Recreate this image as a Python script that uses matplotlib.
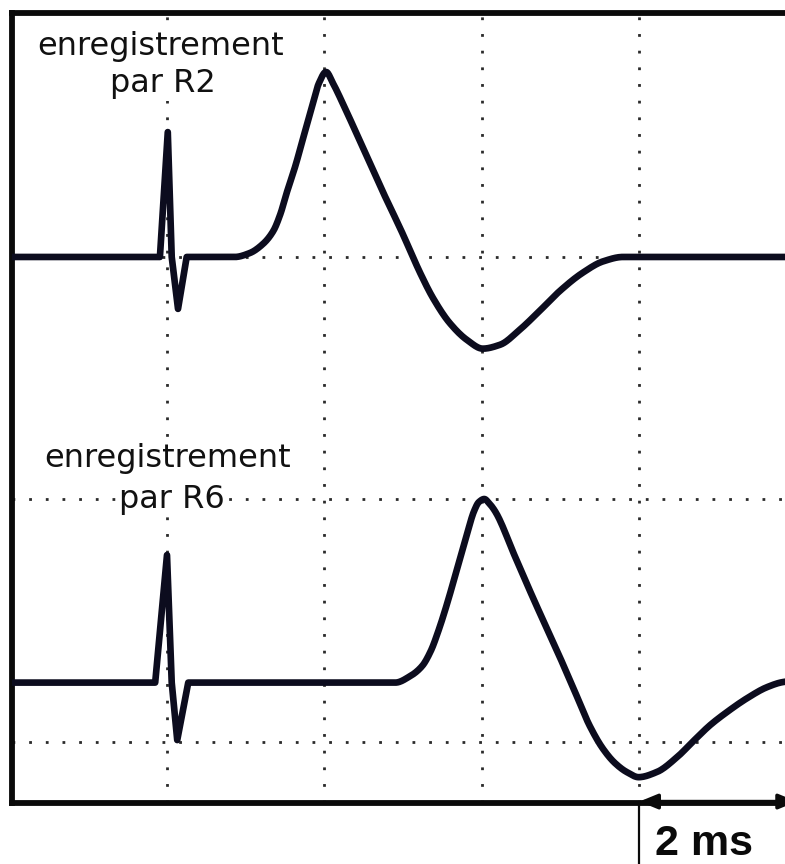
import matplotlib
matplotlib.use("Agg")
import matplotlib.pyplot as plt
import numpy as np

# ---------------- data (time in ms, amplitude in screen divisions, relative to each trace's baseline)
r2_t = [0.0, 1.91, 2.01, 2.06, 2.14, 2.25, 2.86, 3.05, 3.22, 3.35, 3.44, 3.52, 3.63, 3.73, 3.84,
        3.93, 4.02, 4.11, 4.24, 4.49, 4.74, 5.00, 5.11, 5.21, 5.38, 5.59, 5.81, 6.01, 6.23, 6.48,
        6.74, 6.99, 7.28, 7.54, 7.79, 8.01, 10.1]
r2_v = [0.0, 0.0, 0.515, 0.0, -0.214, 0.0, 0.0, 0.016, 0.054, 0.107, 0.177, 0.264, 0.375, 0.491, 0.618,
        0.717, 0.763, 0.715, 0.628, 0.449, 0.270, 0.091, 0.010, -0.062, -0.170, -0.272, -0.342, -0.378,
        -0.362, -0.300, -0.220, -0.140, -0.065, -0.018, 0.0, 0.0, 0.0]

r6_t = [0.0, 1.85, 2.00, 2.06, 2.13, 2.27, 4.90, 5.09, 5.24, 5.35, 5.45, 5.56, 5.68, 5.80, 5.90,
        5.96, 6.03, 6.09, 6.17, 6.42, 6.67, 6.93, 7.18, 7.37, 7.54, 7.69, 7.84, 7.99, 8.22, 8.48,
        8.68, 8.90, 9.11, 9.37, 9.62, 9.82, 10.1]
r6_v = [0.0, 0.0, 0.526, 0.0, -0.237, 0.0, 0.0, 0.027, 0.068, 0.130, 0.216, 0.328, 0.464, 0.600, 0.707,
        0.744, 0.757, 0.740, 0.705, 0.520, 0.334, 0.149, -0.037, -0.179, -0.274, -0.332, -0.369, -0.390,
        -0.369, -0.307, -0.243, -0.175, -0.122, -0.064, -0.019, 0.002, 0.012]

grid_t = [2, 4, 6, 8]
grid_v = [0, 1, 2]
label_r2 = ["enregistrement", "par R2"]
label_r6 = ["enregistrement", "par R6"]
scale_label = "2 ms"
scale_start_ms = 8
scale_ms = 2


def render(t, v, n_sharp):
    """Straight segments for the stimulus artefact, smooth monotone cubic for the wave."""
    t = np.asarray(t, float)
    v = np.asarray(v, float)
    xs = list(t[:n_sharp])
    ys = list(v[:n_sharp])
    tt, vv = t[n_sharp - 1:], v[n_sharp - 1:]
    h = np.diff(tt)
    d = np.diff(vv) / h
    m = np.zeros_like(vv)
    m[0], m[-1] = d[0], d[-1]
    for k in range(1, len(vv) - 1):
        if d[k - 1] * d[k] <= 0:
            m[k] = 0.0
        else:
            w1 = 2 * h[k] + h[k - 1]
            w2 = h[k] + 2 * h[k - 1]
            m[k] = (w1 + w2) / (w1 / d[k - 1] + w2 / d[k])
    s = np.linspace(0, 1, 20)[1:]
    h00 = 2 * s**3 - 3 * s**2 + 1
    h10 = s**3 - 2 * s**2 + s
    h01 = -2 * s**3 + 3 * s**2
    h11 = s**3 - s**2
    for k in range(len(h)):
        xs.extend(tt[k] + s * h[k])
        ys.extend(h00 * vv[k] + h10 * h[k] * m[k] + h01 * vv[k + 1] + h11 * h[k] * m[k + 1])
    return np.array(xs), np.array(ys)


# ---------------- layout
W, H = 785, 864
fig = plt.figure(figsize=(W / 100, H / 100), dpi=100)
left_px, right_px, top_px, bottom_px = 11.5, 800, 13, 803
ax = fig.add_axes([left_px / W, 1 - bottom_px / H, (right_px - left_px) / W, (bottom_px - top_px) / H])
ax.set_xlim(0.025, 10.04)
ax.set_ylim(-0.2515, 3.006)
ax.set_xticks([])
ax.set_yticks([])
for s in ax.spines.values():
    s.set_linewidth(4.2)
    s.set_color("#0a0a0a")

dot = (0, (1, 5))
for t in grid_t:
    ax.axvline(t, color="#2a2a2a", lw=2.0, ls=dot, zorder=1)
for v in grid_v:
    ax.axhline(v, color="#2a2a2a", lw=2.0, ls=dot, zorder=1)

off_r2, off_r6 = 2.0, 0.245
col = "#0c0c1e"
x2, y2 = render(r2_t, r2_v, 6)
x6, y6 = render(r6_t, r6_v, 6)
ax.plot(x2, y2 + off_r2, color=col, lw=4.8, solid_joinstyle="round", solid_capstyle="round", zorder=4)
ax.plot(x6, y6 + off_r6, color=col, lw=4.8, solid_joinstyle="round", solid_capstyle="round", zorder=4)

tkw = dict(fontsize=23, family="DejaVu Sans", color="#111111", ha="center", va="baseline",
           zorder=3, bbox=dict(facecolor="white", edgecolor="none", pad=1.5))
ax.text(1.924, 2.833, label_r2[0], **tkw)
ax.text(1.950, 2.680, label_r2[1], **tkw)
ax.text(2.006, 1.134, label_r6[0], **tkw)
ax.text(2.057, 0.965, label_r6[1], **tkw)

# scale bar
yb = -0.2515
ax.annotate("", xy=(scale_start_ms, yb + 0.006), xytext=(scale_start_ms + scale_ms, yb + 0.006),
            arrowprops=dict(arrowstyle="<|-|>,head_length=1.1,head_width=0.45", color="#0a0a0a",
                            lw=2.5, shrinkA=0, shrinkB=0), annotation_clip=False)
ax.plot([scale_start_ms, scale_start_ms], [yb, yb - 70 / 242.5], color="#0a0a0a", lw=1.6,
        clip_on=False)
ax.text(scale_start_ms + 0.2, yb - 52 / 242.5, scale_label, fontsize=31, fontweight="bold",
        family="Liberation Sans", ha="left", va="baseline", color="#0a0a0a")

fig.savefig("out.png", dpi=100)
